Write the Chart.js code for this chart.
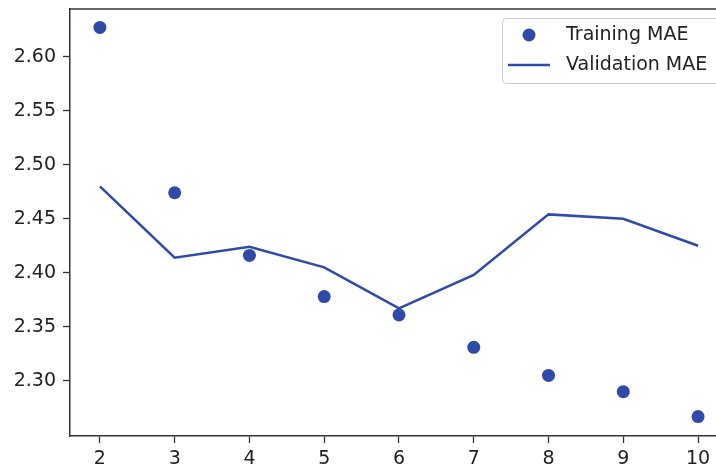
<!DOCTYPE html>
<html>
<head>
<meta charset="utf-8">
<script src="https://cdn.jsdelivr.net/npm/chart.js@4"></script>
<style>
  html, body { margin: 0; padding: 0; background: #fff; }
  #wrap { width: 716px; height: 468px; }
</style>
</head>
<body>
<div id="wrap"><canvas id="maeChart" width="716" height="468"></canvas></div>
<script>
// Epochs and MAE values
const epochs = [2, 3, 4, 5, 6, 7, 8, 9, 10];
const trainingMae = [2.627, 2.474, 2.416, 2.378, 2.361, 2.331, 2.305, 2.290, 2.267];
const validationMae = [2.480, 2.414, 2.424, 2.405, 2.367, 2.398, 2.454, 2.450, 2.425];
const yTicks = [2.30, 2.35, 2.40, 2.45, 2.50, 2.55, 2.60];

const blue = "#2f4aa8";
const axisColor = "#333333";
const font = { family: "DejaVu Sans", size: 19 };

// matplotlib-style legend box + top spine
const mplDecor = {
  id: "mplDecor",
  afterDraw(chart) {
    const ctx = chart.ctx;
    const area = chart.chartArea;
    ctx.save();
    // top spine
    ctx.strokeStyle = axisColor;
    ctx.lineWidth = 1.5;
    ctx.beginPath();
    ctx.moveTo(area.left, area.top);
    ctx.lineTo(area.right, area.top);
    ctx.stroke();

    // legend frame
    const bx = 502, by = 18, bw = 230, bh = 65, r = 4;
    ctx.fillStyle = "rgba(255,255,255,0.85)";
    ctx.strokeStyle = "#cccccc";
    ctx.lineWidth = 1;
    ctx.beginPath();
    ctx.roundRect(bx + 0.5, by + 0.5, bw, bh, r);
    ctx.fill();
    ctx.stroke();

    const ds = chart.data.datasets;
    ctx.font = "19px 'DejaVu Sans'";
    ctx.textBaseline = "middle";
    // training entry (marker)
    ctx.fillStyle = ds[0].backgroundColor;
    ctx.beginPath();
    ctx.arc(529, 35, 6.5, 0, Math.PI * 2);
    ctx.fill();
    ctx.fillStyle = "#222";
    ctx.fillText(ds[0].label, 566, 35);
    // validation entry (line)
    ctx.strokeStyle = ds[1].borderColor;
    ctx.lineWidth = 2.5;
    ctx.beginPath();
    ctx.moveTo(508, 65);
    ctx.lineTo(550, 65);
    ctx.stroke();
    ctx.fillText(ds[1].label, 566, 65);
    ctx.restore();
  }
};

const ctx = document.getElementById("maeChart").getContext("2d");
new Chart(ctx, {
  type: "line",
  data: {
    datasets: [
      {
        label: "Training MAE",
        data: epochs.map((e, i) => ({ x: e, y: trainingMae[i] })),
        showLine: false,
        pointRadius: 6.5,
        pointHoverRadius: 6.5,
        backgroundColor: blue,
        borderColor: blue,
        pointBorderWidth: 0,
      },
      {
        label: "Validation MAE",
        data: epochs.map((e, i) => ({ x: e, y: validationMae[i] })),
        borderColor: blue,
        backgroundColor: blue,
        borderWidth: 2.5,
        pointRadius: 0,
        tension: 0,
        fill: false,
      },
    ],
  },
  options: {
    responsive: false,
    devicePixelRatio: 1,
    animation: false,
    layout: { autoPadding: false, padding: { top: 9, right: 0, left: 0, bottom: 0 } },
    plugins: {
      legend: { display: false },
      tooltip: { enabled: false },
    },
    scales: {
      x: {
        type: "linear",
        min: 1.6,
        max: 10.24,
        afterBuildTicks: (scale) => {
          scale.ticks = epochs.map((v) => ({ value: v }));
        },
        afterFit: (scale) => {
          scale.height = 32;
          scale.paddingLeft = 0;
          scale.paddingRight = 0;
        },
        ticks: {
          color: "#222",
          font: font,
          padding: 5,
          maxRotation: 0,
          callback: (v) => String(v),
        },
        grid: {
          drawOnChartArea: false,
          drawTicks: true,
          tickLength: 7,
          tickWidth: 1.3,
          tickColor: axisColor,
        },
        border: { color: axisColor, width: 1.5 },
      },
      y: {
        min: 2.249,
        max: 2.644,
        afterBuildTicks: (scale) => {
          scale.ticks = yTicks.map((v) => ({ value: v }));
        },
        afterFit: (scale) => {
          scale.width = 70;
          scale.paddingTop = 0;
          scale.paddingBottom = 0;
        },
        ticks: {
          color: "#222",
          font: font,
          padding: 7,
          callback: (v) => v.toFixed(2),
        },
        grid: {
          drawOnChartArea: false,
          drawTicks: true,
          tickLength: 7,
          tickWidth: 1.3,
          tickColor: axisColor,
        },
        border: { color: axisColor, width: 1.5 },
      },
    },
  },
  plugins: [mplDecor],
});
</script>
</body>
</html>
